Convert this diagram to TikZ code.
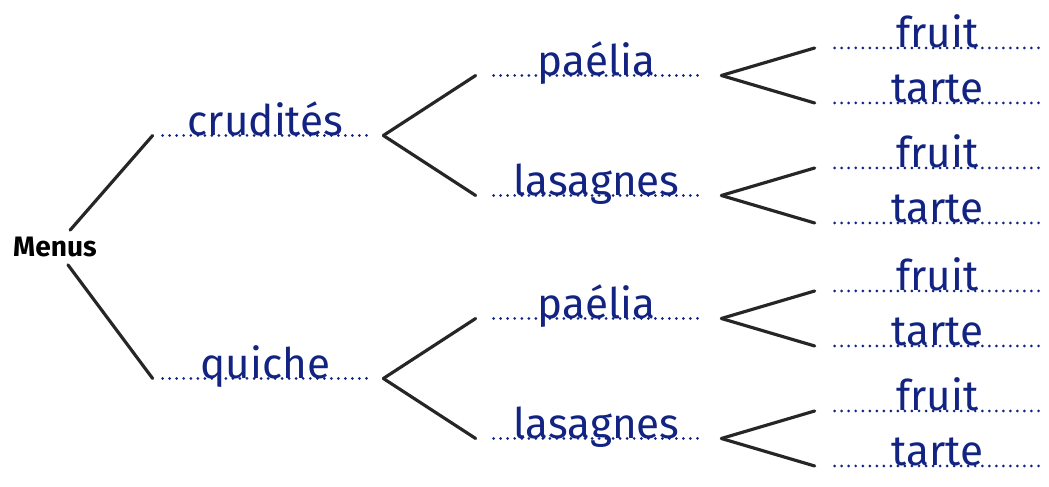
\documentclass[tikz,border=0pt]{standalone}
\usepackage{fontspec}
\setmainfont{Fira Sans}
\definecolor{ink}{RGB}{18,35,130}
\tikzset{
  answer/.style={anchor=base, minimum width=4.1cm, inner sep=0pt, text=ink,
    font=\fontsize{24}{26}\selectfont},
  dotline/.style={ink, line width=1.7pt, line cap=round, dash pattern=on 0pt off 4pt},
}
\begin{document}
\begin{tikzpicture}[
  grow'=right, growth parent anchor=base,
  edge from parent/.style={draw, black!85, line width=1.8pt, line cap=round},
  level 1/.style={level distance=4.21cm, sibling distance=4.86cm,
    edge from parent path={(\tikzparentnode) -- ([xshift=-0.2cm]\tikzchildnode.base west)}},
  level 2/.style={level distance=6.62cm, sibling distance=2.4cm,
    edge from parent path={([xshift=0.3cm]\tikzparentnode.base east) -- ([xshift=-0.36cm]\tikzchildnode.base west)}},
  level 3/.style={level distance=6.82cm, sibling distance=1.1cm,
    edge from parent path={([xshift=0.44cm]\tikzparentnode.base east) -- ([xshift=-0.4cm]\tikzchildnode.base west)}},
]
\useasboundingbox (0,0) rectangle (20.98,9.74);
\node[anchor=base, inner sep=4pt, font=\fontsize{16}{18}\selectfont\bfseries] (menus) at (1.1,4.6) {Menus}
child {node[answer] (crud) {crudités}
   child {node[answer] (crud-pae) {paélia}
      child {node[answer] (crud-pae-f) {fruit}}
      child {node[answer] (crud-pae-t) {tarte}}
   }
   child {node[answer] (crud-las) {lasagnes}
      child {node[answer] (crud-las-f) {fruit}}
      child {node[answer] (crud-las-t) {tarte}}
   }
}
child {node[answer] (quic) {quiche}
   child {node[answer] (quic-pae) {paélia}
      child {node[answer] (quic-pae-f) {fruit}}
      child {node[answer] (quic-pae-t) {tarte}}
   }
   child {node[answer] (quic-las) {lasagnes}
      child {node[answer] (quic-las-f) {fruit}}
      child {node[answer] (quic-las-t) {tarte}}
   }
};
% dotted answer lines
\foreach \n in {crud,quic}{
  \draw[dotline] (\n.base west) -- (\n.base east);
  \foreach \m in {pae,las}{
    \draw[dotline] (\n-\m.base west) -- (\n-\m.base east);
    \foreach \k in {f,t}
      \draw[dotline] (\n-\m-\k.base west) -- (\n-\m-\k.base east);
  }
}
\end{tikzpicture}
\end{document}
